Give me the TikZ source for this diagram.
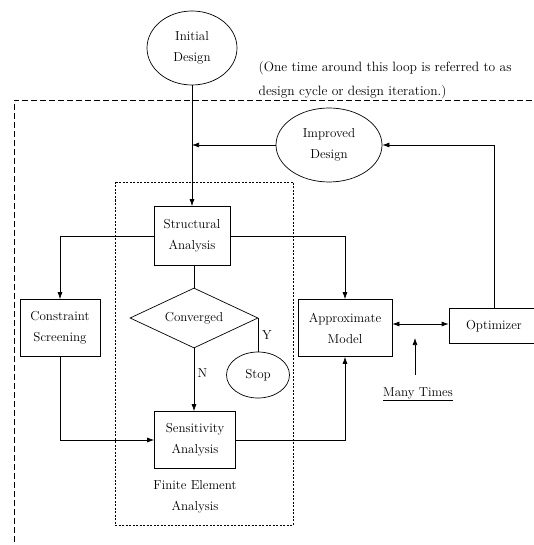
\documentclass[tikz,border=0pt]{standalone}
\usepackage{fontspec}
\usetikzlibrary{arrows.meta,shapes.geometric}
\tikzset{
  blk/.style = {draw, align=center, inner sep=0pt},
  oval/.style = {draw, ellipse, align=center, inner sep=0pt},
  arr/.style = {-{Latex[length=7pt,width=5pt]}},
}
\begin{document}
\begin{tikzpicture}[x=1pt, y=-1pt, line width=0.7pt,
    font=\fontsize{13}{21}\selectfont]
			\useasboundingbox (0, 0) rectangle (534, 545);
			% frames
			\draw[dash pattern=on 6pt off 3pt, line width=0.6pt] (14, 560) -- (14, 100) -- (545, 100);
			\draw[dash pattern=on 2pt off 1.5pt, line width=0.5pt] (115, 182) rectangle (293, 525);
			% ovals
			\node[oval, minimum width=90pt, minimum height=74pt] (init) at (192, 48) {Initial\\Design};
			\node[oval, minimum width=106pt, minimum height=74pt] (imp) at (329, 145) {Improved\\Design};
			\node[oval, minimum width=63pt, minimum height=46pt] (stop) at (258, 375) {Stop};
			% boxes
			\node[blk, minimum width=76pt, minimum height=59pt] (struct) at (192, 236) {Structural\\Analysis};
			\node[blk, minimum width=80pt, minimum height=57pt] (cons) at (60, 328) {Constraint\\Screening};
			\node[blk, minimum width=81pt, minimum height=57pt] (sens) at (195, 440) {Sensitivity\\Analysis};
			\node[blk, minimum width=94pt, minimum height=57pt] (approx) at (345, 328) {Approximate\\Model};
			\node[blk, minimum width=90pt, minimum height=35pt] (opt) at (494, 326) {Optimizer};
			\node[draw, diamond, aspect=2, inner sep=0pt, minimum width=128pt, minimum height=60pt] (conv) at (194, 318) {Converged};
			% texts
			\node[align=left, anchor=west, font=\fontsize{13.5}{24}\selectfont] (note) at (255, 80) {(One time around this loop is referred to as\\design cycle or design iteration.)};
			\node[align=center] (fea) at (195, 497) {Finite Element\\Analysis};
			\node (many) at (418, 394) {\underline{Many Times}};
			\coordinate (tip) at (415, 338);
			% connectors
			\draw[arr] (init) -- (struct);
			\draw[arr] (imp) -- (imp -| init);
			\draw[arr] (opt.north) |- (imp.east);
			\draw[arr] (struct.west) -| (cons.north);
			\draw[arr] (struct.east) -| (approx.north);
			\draw (conv.north |- struct.south) -- (conv.north);
			\draw (conv.east) --node[right] {Y} (conv.east |- stop.north);
			\draw[arr] (conv.south) --node[right, pos=0.4] {N} (conv.south |- sens.north);
			\draw[arr] (cons.south) |- (sens.west);
			\draw[arr] (sens.east) -| (approx.south);
			\draw[{Latex[length=7pt,width=5pt]}-{Latex[length=7pt,width=5pt]}] (approx.east |- 0, 324) -- (opt.west |- 0, 324);
			\draw[arr] ([yshift=9pt]many.north -| tip) -- (tip);
		\end{tikzpicture}
\end{document}
